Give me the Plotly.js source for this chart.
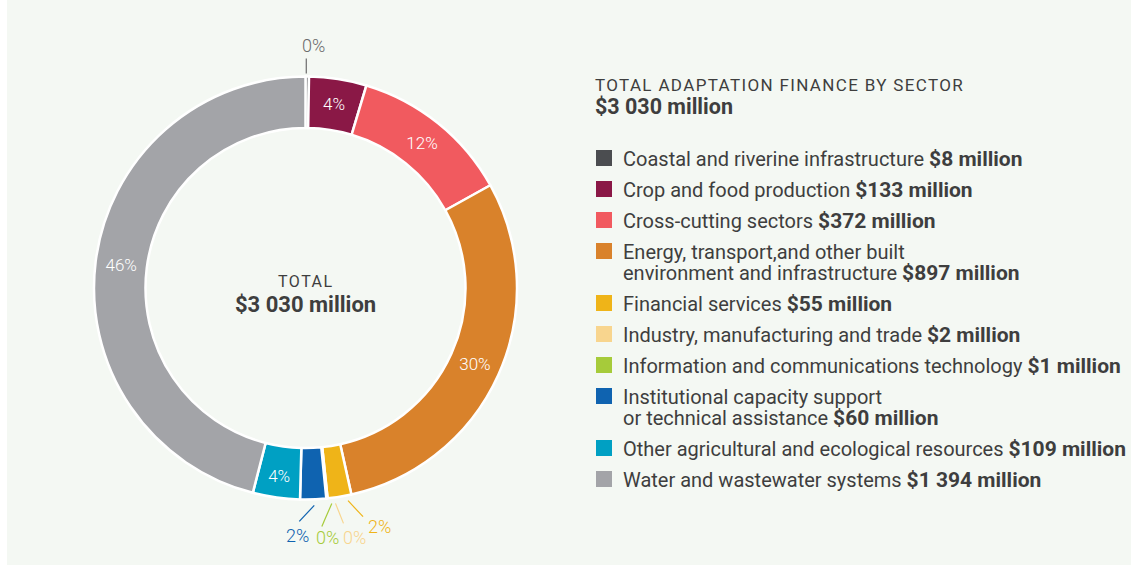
<!DOCTYPE html>
<html><head><meta charset="utf-8">
<script src="https://cdn.plot.ly/plotly-3.0.1.min.js"></script>
<style>html,body{margin:0;padding:0;background:#fff}#chart{width:1131px;height:566px}</style>
</head><body><div id="chart"></div>
<script>
// ---- data ----
const sectors = [
  "Coastal and riverine infrastructure",
  "Crop and food production",
  "Cross-cutting sectors",
  "Energy, transport,and other built environment and infrastructure",
  "Financial services",
  "Industry, manufacturing and trade",
  "Information and communications technology",
  "Institutional capacity support or technical assistance",
  "Other agricultural and ecological resources",
  "Water and wastewater systems"
];
const valuesMillion = [8, 133, 372, 897, 55, 2, 1, 60, 109, 1394];
const totalMillion = 3030;
const headingText = "TOTAL ADAPTATION FINANCE BY SECTOR";
const centerText = "TOTAL";

// ---- styles / layout config ----
const colors = ["#4b4d50", "#8a1846", "#f15a5f", "#d9822b", "#efb418", "#f8d58e", "#a6cb3a", "#0f63b0", "#00a0c3", "#a3a4a8"];
const W = 1131, H = 566;
const cx = 305.5, cy = 288, R = 211.5, rIn = 160;
const textColor = "#3e3e3e";
const FONT = "Roboto, 'Open Sans', sans-serif";
const wrapAfter = {3: "built", 7: "support"};
// leader-line config for the tiny slices: start shift, line vector and label offset (px)
const leaders = {
  0: {shift: [-1, 0], line: [0, -15], label: [7, -13]},
  4: {shift: [8, 1], line: [15, 16], label: [16, 10]},
  5: {shift: [8, 2], line: [8, 20], label: [11, 14]},
  6: {shift: [5, 2], line: [-10, 23], label: [6, 11]},
  7: {shift: [1, 3], line: [-15, 16], label: [-2, 14]}
};
const insideMin = 0.03;
const legendFont = 20, legendBold = 21, rowStep = 31, lineStep = 21;

function fmt(v) { return String(v).replace(/\B(?=(\d{3})+(?!\d))/g, " "); }
const px = x => x / W;
const py = y => 1 - y / H;
const boldAmount = (v, size) => '<span style="font-weight:bold;font-size:' + size + 'px">$' + fmt(v) + ' million</span>';

const sum = valuesMillion.reduce((a, b) => a + b, 0);
const textpos = valuesMillion.map(v => (v / sum >= insideMin ? "inside" : "none"));

const trace = {
  type: "pie",
  labels: sectors,
  values: valuesMillion,
  sort: false,
  direction: "clockwise",
  rotation: 0,
  hole: rIn / R,
  marker: {colors: colors, line: {color: "#ffffff", width: 2.5}},
  texttemplate: "%{percent:.0%}",
  textposition: textpos,
  insidetextorientation: "horizontal",
  insidetextfont: {family: FONT, size: 17, color: "#ffffff", weight: 300},
  showlegend: false,
  hoverinfo: "label+value+percent",
  domain: {x: [px(cx - R), px(cx + R)], y: [py(cy + R), py(cy - R)]}
};

const shapes = [{
  type: "rect", xref: "paper", yref: "paper", layer: "below",
  x0: px(7), x1: 1, y0: py(565), y1: 1,
  fillcolor: "#f4f8f3", line: {width: 0}
}];
const annotations = [];

// leader lines and outside labels for tiny slices
let cum = 0;
valuesMillion.forEach((v, i) => {
  const mid = (cum + v / 2) / sum * 2 * Math.PI;
  cum += v;
  const cfg = leaders[i];
  if (!cfg) return;
  const gap = 3;
  const sx = cx + (R + gap) * Math.sin(mid) + cfg.shift[0], sy = cy - (R + gap) * Math.cos(mid) + cfg.shift[1];
  const ex = sx + cfg.line[0], ey = sy + cfg.line[1];
  const col = i === 0 ? "#6b6b6b" : colors[i];
  shapes.push({type: "line", xref: "paper", yref: "paper",
    x0: px(sx), y0: py(sy), x1: px(ex), y1: py(ey),
    line: {color: col, width: 1.2}});
  annotations.push({xref: "paper", yref: "paper", x: px(ex + cfg.label[0]), y: py(ey + cfg.label[1]),
    xanchor: "center", yanchor: "middle", showarrow: false,
    text: Math.round(v / sum * 100) + "%",
    font: {family: FONT, size: 18, color: col, weight: 300}});
});

// center label
annotations.push({xref: "paper", yref: "paper", x: px(cx), y: py(281), xanchor: "center", yanchor: "middle",
  showarrow: false, text: '<span style="letter-spacing:1.5px">' + centerText + '</span>',
  font: {family: FONT, size: 16, color: textColor}});
annotations.push({xref: "paper", yref: "paper", x: px(cx), y: py(304), xanchor: "center", yanchor: "middle",
  showarrow: false, text: boldAmount(totalMillion, 22),
  font: {family: FONT, size: 22, color: textColor}});

// legend heading
const LX = 596, TX = 621;
annotations.push({xref: "paper", yref: "paper", x: px(593), y: py(85), xanchor: "left", yanchor: "middle",
  showarrow: false, text: '<span style="letter-spacing:1.35px">' + headingText + '</span>',
  font: {family: FONT, size: 17, color: textColor}});
annotations.push({xref: "paper", yref: "paper", x: px(593), y: py(106), xanchor: "left", yanchor: "middle",
  showarrow: false, text: boldAmount(totalMillion, 21.5),
  font: {family: FONT, size: 21.5, color: textColor}});

// custom legend: one annotation per entry; base font size sets the 21px line pitch (1.3em)
let yc = 158;
sectors.forEach((name, i) => {
  let lines = [name];
  if (wrapAfter[i]) {
    const k = name.indexOf(wrapAfter[i]) + wrapAfter[i].length;
    lines = [name.slice(0, k), name.slice(k + 1)];
  }
  lines[lines.length - 1] += " " + boldAmount(valuesMillion[i], legendBold);
  shapes.push({type: "rect", xref: "paper", yref: "paper",
    x0: px(LX), x1: px(LX + 16), y0: py(yc + 8), y1: py(yc - 8),
    fillcolor: colors[i], line: {width: 0}});
  const text = lines.map(t => '<span style="font-size:' + legendFont + 'px">' + t + '</span>').join("<br>");
  const centerY = yc + (lines.length - 1) * lineStep / 2 + 1;
  annotations.push({xref: "paper", yref: "paper", x: px(TX), y: py(centerY),
    xanchor: "left", yanchor: "middle", align: "left", showarrow: false, text: text,
    font: {family: FONT, size: lineStep / 1.3, color: textColor}});
  yc += rowStep + (lines.length - 1) * lineStep;
});

const layout = {
  width: W, height: H,
  margin: {l: 0, r: 0, t: 0, b: 0},
  paper_bgcolor: "#ffffff",
  font: {family: FONT, color: textColor},
  shapes: shapes,
  annotations: annotations
};

Plotly.newPlot("chart", [trace], layout, {displayModeBar: false, staticPlot: true});
</script>
</body></html>
